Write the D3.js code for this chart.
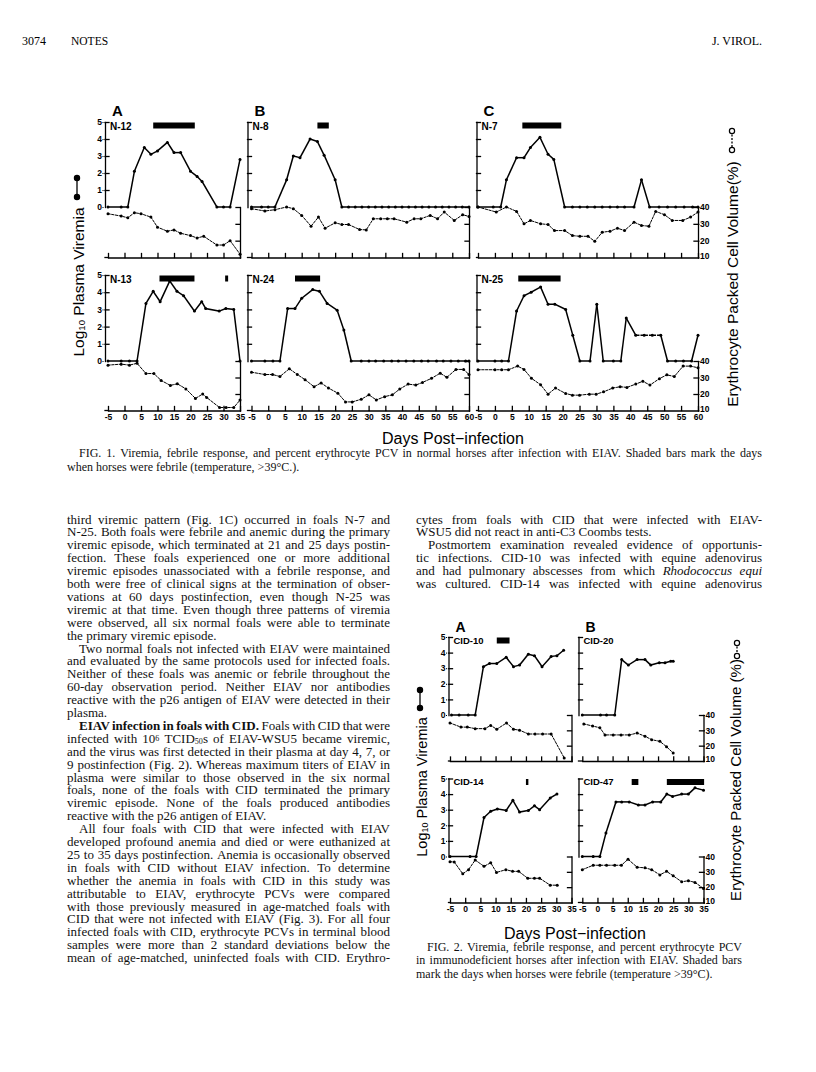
<!DOCTYPE html>
<html>
<head>
<meta charset="utf-8">
<script src="https://cdn.jsdelivr.net/npm/d3@7"></script>
<style>
  body { margin: 0; background: #fff; }
  svg { display: block; }
</style>
</head>
<body>
<svg id="page" width="816" height="1072"></svg>
<script>
// ---------- data: [day, value] ----------
const N12_viremia = [[-5,0],[-1,0],[1,0],[3,2.1],[6,3.5],[8,3.1],[10,3.3],[13,3.8],[15,3.2],[17,3.2],[20,2.1],[22,1.8],[23.5,1.5],[28,0],[30,0],[32,0],[35,2.8]];
const N12_pcv = [[-5,36],[-1,34.6],[1,33.6],[3,36.6],[5,36],[8,34],[10,28],[13,25.6],[15,26.4],[17,24.4],[20,23],[22,21.6],[24,22.6],[28,17.4],[30,17.4],[32,20],[35,12]];
const N12_fever = [[8.7,21.3]];

const N8_viremia = [[-5,0],[-2,0],[0,0],[2,0],[5.5,1.6],[7.5,3.0],[9.5,2.9],[12.5,4.0],[14.7,3.85],[16.7,3.05],[20,1.6],[22,0],[24,0],[26,0],[28,0],[30,0],[32,0],[34,0],[36,0],[38,0],[40,0],[42,0],[44,0],[46,0],[48,0],[50,0],[52,0],[54,0],[56,0],[58,0],[60,0]];
const N8_pcv = [[-5,39],[-1,37.6],[2,38.4],[5.5,40],[7.5,39],[10,35],[12.8,28.6],[15,34],[17,27.4],[20,30.6],[22,29.6],[24,29.6],[27.3,26.6],[29.3,26.4],[31.4,33],[33.6,33],[35.6,33],[37.6,33],[41.4,31],[43.6,33],[45.6,33],[48.4,35],[50.6,33],[52.6,37],[55.6,32],[58.1,35.4],[60,34.4]];
const N8_fever = [[14.7,18.1]];

const N7_viremia = [[-5,0],[-0.5,0],[1.7,0],[3.4,1.6],[6.4,2.9],[8.6,2.9],[10.5,3.5],[13.3,4.1],[15.7,3.1],[17.4,2.8],[20.6,0],[22.9,0],[25.1,0],[27.3,0],[29.5,0],[31.7,0],[34,0],[36.2,0],[38.3,0],[41.1,0],[43.3,1.6],[45.7,0],[48.5,0],[51,0],[53.4,0],[55.9,0],[58.4,0],[60,0]];
const N7_pcv = [[-5,40],[0.4,37],[3.4,40],[6.4,37.4],[8.6,30],[10.5,32],[13.5,30],[15.7,29.6],[17.6,26],[20.6,26],[22.9,23],[25.1,22.6],[27.5,22.6],[29.5,19.6],[31.7,25],[34,25.6],[36.2,27.4],[38.3,26],[41.1,31],[43.3,29],[45.5,28.6],[47.5,37.4],[50.1,35.4],[52.4,32],[55.5,32],[57.8,34],[60,37]];
const N7_fever = [[8.1,19.6]];

const N13_viremia = [[-5,0],[-1,0],[1.5,0],[3.8,0],[6.5,3.35],[8.7,4.05],[10.8,3.45],[13.7,4.65],[15.9,4.05],[17.9,3.8],[21.2,2.9],[23.4,3.45],[24.6,3.05],[28.7,2.9],[30.7,3.05],[33.1,3.0],[35,0]];
const N13_pcv = [[-5,37.5],[-1,38.1],[1.5,37.5],[3.8,38.6],[6.5,32.4],[8.9,32.4],[11.1,28.2],[13.9,25.2],[16,26.2],[18.6,23.1],[21.5,17.3],[23.7,20],[24.9,17.9],[28.8,11.8],[30.8,11.8],[33.1,11.8],[35,16.3]];
const N13_fever = [[10.6,21.2],[30.5,31.4]];

const N24_viremia = [[-5,0],[-1,0],[1.4,0],[3.5,0],[5.8,3.05],[8,3.05],[10,3.65],[13.3,4.15],[15.3,4.05],[17.6,3.35],[20.6,2.95],[22.6,1.8],[24.8,0],[27.8,0],[30.1,0],[32.1,0],[34.5,0],[36.9,0],[38.9,0],[41.2,0],[43.5,0],[45.8,0],[47.8,0],[50.3,0],[52.3,0],[54.6,0],[56.8,0],[59,0],[60,0]];
const N24_pcv = [[-5,33.2],[-1,31.8],[1.3,31.8],[3.5,30.6],[6.3,35.3],[8.7,31.8],[11,28.7],[13.7,24.4],[15.8,26.7],[18,23.6],[20.8,20.5],[23.1,15.2],[25.1,15.2],[27.8,16.8],[30.1,19.5],[32.3,16.4],[34.8,18.4],[37.1,19.5],[39.3,23],[41.8,26],[44.1,25.4],[46.1,27],[48.8,29.5],[51.4,32.6],[53.4,30.1],[56.1,34.9],[58.4,34.9],[60,31.8]];
const N24_fever = [[8,15.5]];

const N25_viremia = [[-5,0],[0,0],[2,0],[4,0],[6.4,2.9],[8.6,3.8],[10.7,4.0],[13.5,4.3],[15.7,3.3],[17.7,3.3],[20.9,3.0],[23,1.5],[25.1,0],[28.1,0],[30.1,3.3],[32,0],[35,0],[37.2,0],[38.8,2.5],[41.6,1.5],[44.1,1.5],[46.5,1.5],[49,1.5],[51,0],[53.4,0],[55.7,0],[58.1,0],[60,1.5]];
const N25_pcv = [[-5,34.7],[0,34.7],[2,34.7],[4,34.7],[6.7,36.9],[8.6,34.9],[10.8,29.5],[13.5,25.6],[15.7,19.9],[17.9,23.6],[20.9,20.3],[22.9,19.3],[25,19.3],[27.9,19.9],[29.9,19.9],[32.1,21.3],[34.8,23.6],[37,24.4],[39,24],[41.6,26],[43.7,27.7],[45.8,25.4],[48.6,29.3],[50.8,31.6],[53,30.6],[55.6,36.9],[57.8,36.9],[60,35.9]];
const N25_fever = [[6.9,19.4]];
const N25_dashedDays = [41.6, 49];

const CID10_viremia = [[-4.5,0],[-2,0],[1,0],[3.3,0],[6,3.1],[8,3.3],[10.4,3.3],[13.5,3.7],[15.9,3.1],[17.9,3.2],[20.8,3.9],[22.8,3.8],[25.3,3.1],[28.3,3.75],[30.2,3.8],[32.4,4.15]];
const CID10_pcv = [[-5,34.8],[-1.4,32.1],[0.7,32.1],[3.3,31.1],[6.5,31.1],[8.4,33.2],[10.4,30.7],[13.6,34.8],[15.9,30.7],[17.9,30.1],[20.8,27.6],[23,27.6],[25.5,27.6],[28.3,27.6],[32.6,12]];
const CID10_fever = [[10.4,14.6]];

const CID20_viremia = [[-5,0],[1,0],[3,0],[5.7,0],[8,3.55],[10.2,3.2],[13.1,3.55],[15.7,3.55],[17.6,3.2],[20.4,3.35],[22.3,3.35],[24.2,3.45],[25,3.45]];
const CID20_pcv = [[-4.5,34.2],[-1.6,32.8],[0.8,31.7],[2.5,27],[5.2,27],[7.8,27],[10.5,27],[13.1,28.2],[15.7,26.1],[17.9,23.9],[20.6,22.8],[22.8,19.3],[25,15.2]];
const CID20_fever = [];

const CID14_viremia = [[-5,0],[1.6,0],[3.6,0],[6.2,2.5],[8.4,2.9],[10.6,3.05],[13.5,2.95],[15.7,3.6],[17.9,2.85],[20.8,2.95],[22.8,3.25],[24.5,3.0],[28,3.75],[30.2,4.0]];
const CID14_pcv = [[-5,36.6],[-3.6,36.4],[-0.8,28.7],[1.1,31.4],[3.3,37.7],[6.2,33.6],[8.4,35.9],[10.3,29.6],[13.4,31.4],[15.6,30.3],[17.6,30.3],[20.6,25.8],[22.8,25.8],[24.5,25.8],[28,21.3],[30.3,21.3]];
const CID14_fever = [[20,20.8]];

const CID47_viremia = [[-5,0],[-1.4,0],[0.8,0],[2.8,1.5],[6.1,3.5],[8,3.5],[10.5,3.5],[13.5,3.3],[15.7,3.3],[18.2,3.5],[20.9,3.5],[22.9,4.0],[24.8,3.85],[27.8,4.0],[30,4.0],[32.2,4.4],[35,4.25]];
const CID47_pcv = [[-5,31.4],[-1.4,34.3],[0.8,34.3],[3,34.3],[5.7,34.3],[7.9,34.3],[10.1,38.2],[13.1,33],[15.7,32.6],[17.9,31.4],[20.6,28],[22.8,30.3],[25,27.4],[27.8,23.5],[30,24.2],[32.2,23.1],[35,19.1]];
const CID47_fever = [[11.3,13.5],[22.9,35.2]];

const viremiaTicks = [0, 1, 2, 3, 4, 5];
const pcvTicks = [10, 20, 30, 40];

// ---------- text ----------
const leftLines = [
  ["third viremic pattern (Fig. 1C) occurred in foals N-7 and", 0, 1],
  ["N-25. Both foals were febrile and anemic during the primary", 0, 1],
  ["viremic episode, which terminated at 21 and 25 days postin-", 0, 1],
  ["fection. These foals experienced one or more additional", 0, 1],
  ["viremic episodes unassociated with a febrile response, and", 0, 1],
  ["both were free of clinical signs at the termination of obser-", 0, 1],
  ["vations at 60 days postinfection, even though N-25 was", 0, 1],
  ["viremic at that time. Even though three patterns of viremia", 0, 1],
  ["were observed, all six normal foals were able to terminate", 0, 1],
  ["the primary viremic episode.", 0, 0],
  ["Two normal foals not infected with EIAV were maintained", 1, 1],
  ["and evaluated by the same protocols used for infected foals.", 0, 1],
  ["Neither of these foals was anemic or febrile throughout the", 0, 1],
  ["60-day observation period. Neither EIAV nor antibodies", 0, 1],
  ["reactive with the p26 antigen of EIAV were detected in their", 0, 1],
  ["plasma.", 0, 0],
  ["*EIAV infection in foals with CID.* Foals with CID that were", 1, 1],
  ["infected with 10^6^ TCID~50~s of EIAV-WSU5 became viremic,", 0, 1],
  ["and the virus was first detected in their plasma at day 4, 7, or", 0, 1],
  ["9 postinfection (Fig. 2). Whereas maximum titers of EIAV in", 0, 1],
  ["plasma were similar to those observed in the six normal", 0, 1],
  ["foals, none of the foals with CID terminated the primary", 0, 1],
  ["viremic episode. None of the foals produced antibodies", 0, 1],
  ["reactive with the p26 antigen of EIAV.", 0, 0],
  ["All four foals with CID that were infected with EIAV", 1, 1],
  ["developed profound anemia and died or were euthanized at", 0, 1],
  ["25 to 35 days postinfection. Anemia is occasionally observed", 0, 1],
  ["in foals with CID without EIAV infection. To determine", 0, 1],
  ["whether the anemia in foals with CID in this study was", 0, 1],
  ["attributable to EIAV, erythrocyte PCVs were compared", 0, 1],
  ["with those previously measured in age-matched foals with", 0, 1],
  ["CID that were not infected with EIAV (Fig. 3). For all four", 0, 1],
  ["infected foals with CID, erythrocyte PCVs in terminal blood", 0, 1],
  ["samples were more than 2 standard deviations below the", 0, 1],
  ["mean of age-matched, uninfected foals with CID. Erythro-", 0, 1]
];
const rightLines = [
  ["cytes from foals with CID that were infected with EIAV-", 0, 1],
  ["WSU5 did not react in anti-C3 Coombs tests.", 0, 0],
  ["Postmortem examination revealed evidence of opportunis-", 1, 1],
  ["tic infections. CID-10 was infected with equine adenovirus", 0, 1],
  ["and had pulmonary abscesses from which _Rhodococcus equi_", 0, 1],
  ["was cultured. CID-14 was infected with equine adenovirus", 0, 1]
];
const fig1Caption = [
  ["FIG. 1. Viremia, febrile response, and percent erythrocyte PCV in normal horses after infection with EIAV. Shaded bars mark the days", 1, 1],
  ["when horses were febrile (temperature, >39°C.).", 0, 0]
];
const fig2Caption = [
  ["FIG. 2. Viremia, febrile response, and percent erythrocyte PCV", 1, 1],
  ["in immunodeficient horses after infection with EIAV. Shaded bars", 0, 1],
  ["mark the days when horses were febrile (temperature >39°C).", 0, 0]
];

// ---------- drawing ----------
const svg = d3.select("#page");
const sans = "'Liberation Sans', Arial, sans-serif";
const serif = "'Liberation Serif', 'Times New Roman', serif";

// split a marked-up string into runs: *bold* _italic_ ^sup^ ~sub~
function runs(str) {
  return str.split(/(\*[^*]+\*|_[^_]+_|\^[^^]+\^|~[^~]+~)/).filter(s => s.length).map(p => {
    const k = { "*": "b", "_": "i", "^": "sup", "~": "sub" }[p[0]];
    return k ? { t: p.slice(1, -1), k } : { t: p, k: null };
  });
}

function styleRun(t, k) {
  if (k === "b") t.attr("font-weight", "bold");
  if (k === "i") t.attr("font-style", "italic");
  if (k === "sup") t.attr("font-size", "0.62em").attr("baseline-shift", "30%");
  if (k === "sub") t.attr("font-size", "0.62em").attr("baseline-shift", "-12%");
}

function richText(sel, str) {
  runs(str).forEach(r => styleRun(sel.append("tspan").text(r.t), r.k));
}

// one line = words placed one by one, gaps stretched to fill the column
function textBlock(lines, x0, x1, y0, lh, size, indent) {
  lines.forEach((ln, i) => {
    const xs = x0 + (ln[1] ? indent : 0);
    const words = [[]];
    runs(ln[0]).forEach(r => {
      r.t.split(" ").forEach((piece, j) => {
        if (j > 0) words.push([]);
        if (piece.length) words[words.length - 1].push({ t: piece, k: r.k });
      });
    });
    const t = svg.append("text").attr("y", y0 + i * lh)
      .attr("font-family", serif).attr("font-size", size).attr("fill", "#111");
    const nodes = words.filter(w => w.length).map(w => w.map(r => {
      const s = t.append("tspan").text(r.t);
      styleRun(s, r.k);
      return s;
    }));
    const widths = nodes.map(w => d3.sum(w, s => s.node().getComputedTextLength()));
    const gap = ln[2] && nodes.length > 1
      ? (x1 - xs - d3.sum(widths)) / (nodes.length - 1)
      : size * 0.25;
    let cx = xs;
    nodes.forEach((w, j) => {
      w[0].attr("x", cx);
      cx += widths[j] + gap;
    });
  });
}

function panel(p) {
  const x = d3.scaleLinear().domain([-5, p.end]).range([p.xs, p.xe]);
  const yv = d3.scaleLinear().domain([0, 5]).range([p.v0, p.v5]);
  const yp = d3.scaleLinear().domain([10, 40]).range([p.base, p.v0]);
  const g = svg.append("g").attr("stroke-linecap", "square");
  const fmt = d3.format("d");

  // viremia axis (left, inward ticks)
  g.append("g").attr("transform", `translate(${p.axL},0)`)
    .call(d3.axisRight(yv).tickValues([1, 2, 3, 4, 5]).tickSize(4).tickSizeOuter(0).tickFormat(""))
    .call(a => a.selectAll("path,line").attr("stroke", "#000").attr("stroke-width", 1.3));
  if (p.vLabels) {
    g.append("g").attr("transform", `translate(${p.axL - 2},0)`)
      .call(d3.axisLeft(yv).tickValues(viremiaTicks).tickSize(0).tickPadding(1).tickFormat(fmt))
      .call(a => a.select(".domain").remove())
      .call(a => a.selectAll("text").attr("font-family", sans).attr("font-weight", "bold").attr("font-size", p.tickFont).attr("fill", "#000"));
  }

  // PCV axis (right, inward ticks)
  g.append("g").attr("transform", `translate(${p.axR},0)`)
    .call(d3.axisLeft(yp).tickValues([20, 30, 40]).tickSize(4).tickSizeOuter(0).tickFormat(""))
    .call(a => a.selectAll("path,line").attr("stroke", "#000").attr("stroke-width", 1.3));
  if (p.pLabels) {
    g.append("g").attr("transform", `translate(${p.axR + 1},0)`)
      .call(d3.axisRight(yp).tickValues(pcvTicks).tickSize(0).tickPadding(1).tickFormat(fmt))
      .call(a => a.select(".domain").remove())
      .call(a => a.selectAll("text").attr("font-family", sans).attr("font-weight", "bold").attr("font-size", p.tickFont).attr("fill", "#000")
        .attr("dy", d => d === 10 ? "0.1em" : "0.32em"));
  }

  // day axis (bottom, upward ticks)
  const days = d3.range(-5, p.end + 1, 5);
  g.append("g").attr("transform", `translate(0,${p.base})`)
    .call(d3.axisTop(x).tickValues(days).tickSize(4).tickSizeOuter(0).tickFormat(""))
    .call(a => a.selectAll("path,line").attr("stroke", "#000").attr("stroke-width", 1.3));
  g.append("line").attr("x1", p.axL).attr("x2", p.xs).attr("y1", p.base).attr("y2", p.base)
    .attr("stroke", "#000").attr("stroke-width", 1.3);
  if (p.xLabels) {
    g.append("g").attr("transform", `translate(0,${p.base})`)
      .call(d3.axisBottom(x).tickValues(days).tickSize(0).tickPadding(3).tickFormat(d => d < 0 ? "-" + (-d) : d))
      .call(a => a.select(".domain").remove())
      .call(a => a.selectAll("text").attr("font-family", sans).attr("font-weight", "bold").attr("font-size", p.tickFont).attr("fill", "#000"));
  }

  // fever bars
  g.selectAll(".fever").data(p.fever).join("rect")
    .attr("x", d => x(d[0])).attr("width", d => x(d[1]) - x(d[0]))
    .attr("y", p.v5 + 0.5).attr("height", 6).attr("fill", "#000");

  // PCV series
  const lp = d3.line().x(d => x(d[0])).y(d => yp(d[1]));
  g.append("path").attr("d", lp(p.pcv)).attr("fill", "none").attr("stroke", "#000")
    .attr("stroke-width", 1).attr("stroke-dasharray", "2.2,1.6");
  g.selectAll(".pd").data(p.pcv).join("circle")
    .attr("cx", d => x(d[0])).attr("cy", d => yp(d[1])).attr("r", 1.5).attr("fill", "#000");

  // viremia series: solid, except an optional dashed stretch
  const lv = d3.line().x(d => x(d[0])).y(d => yv(d[1]));
  const inDash = d => p.dashed && d[0] >= p.dashed[0] && d[0] <= p.dashed[1];
  g.selectAll(".vs").data(d3.pairs(p.vir)).join("path")
    .attr("d", s => lv(s)).attr("fill", "none").attr("stroke", "#000").attr("stroke-width", 1.5)
    .attr("stroke-dasharray", s => inDash(s[0]) && inDash(s[1]) ? "3,2.5" : null);
  g.selectAll(".vd").data(p.vir).join("circle")
    .attr("cx", d => x(d[0])).attr("cy", d => yv(d[1])).attr("r", 1.5).attr("fill", "#000");

  // horse id
  g.append("text").attr("x", p.axL + 5).attr("y", p.v5 + p.nameDy)
    .attr("font-family", sans).attr("font-weight", "bold").attr("font-size", p.nameFont).text(p.name);
}

function legendGlyph(cx, y1, y2, open) {
  const g = svg.append("g");
  g.append("line").attr("x1", cx).attr("x2", cx).attr("y1", y1).attr("y2", y2)
    .attr("stroke", "#000").attr("stroke-width", 1.3).attr("stroke-dasharray", open ? "2,1.5" : null);
  [y1, y2].forEach(y => g.append("circle").attr("cx", cx).attr("cy", y).attr("r", 2.6)
    .attr("fill", open ? "#fff" : "#000").attr("stroke", "#000").attr("stroke-width", 1.2));
}

function rotTitle(x, y, size, parts) {
  const t = svg.append("text").attr("transform", `translate(${x},${y}) rotate(-90)`)
    .attr("text-anchor", "middle").attr("font-family", sans).attr("font-size", size).attr("fill", "#000");
  richText(t, parts);
}

// ---------- page header ----------
svg.append("text").attr("x", 22).attr("y", 45).attr("font-family", serif).attr("font-size", 12).text("3074");
svg.append("text").attr("x", 71).attr("y", 45).attr("font-family", serif).attr("font-size", 11.5).text("NOTES");
svg.append("text").attr("x", 762).attr("y", 45).attr("text-anchor", "end").attr("font-family", serif).attr("font-size", 12).text("J. VIROL.");

// ---------- Figure 1 ----------
const f1Cols = [
  { letter: "A", axL: 105, xs: 108, xe: 240, end: 35 },
  { letter: "B", axL: 247.5, xs: 251.5, xe: 469, end: 60 },
  { letter: "C", axL: 476.5, xs: 478, xe: 698, end: 60 }
];
const f1Rows = [
  { v5: 122, v0: 207, base: 257.5 },
  { v5: 275, v0: 361, base: 410.5 }
];
const f1Series = [
  [["N-12", N12_viremia, N12_pcv, N12_fever], ["N-8", N8_viremia, N8_pcv, N8_fever], ["N-7", N7_viremia, N7_pcv, N7_fever]],
  [["N-13", N13_viremia, N13_pcv, N13_fever], ["N-24", N24_viremia, N24_pcv, N24_fever], ["N-25", N25_viremia, N25_pcv, N25_fever, N25_dashedDays]]
];
f1Rows.forEach((r, ri) => f1Cols.forEach((c, ci) => {
  const s = f1Series[ri][ci];
  panel({ ...c, ...r, axR: c.xe, name: s[0], vir: s[1], pcv: s[2], fever: s[3], dashed: s[4],
    vLabels: ci === 0, pLabels: ci === 2, xLabels: ri === 1, tickFont: 8.5, nameFont: 10, nameDy: 7.5 });
}));
f1Cols.forEach(c => svg.append("text").attr("x", c.axL + 7).attr("y", 116)
  .attr("font-family", sans).attr("font-weight", "bold").attr("font-size", 15).text(c.letter));

rotTitle(84, 282, 15.5, "Log~10~ Plasma Viremia");
legendGlyph(77, 178, 197, false);
rotTitle(738, 284, 15.5, "Erythrocyte Packed Cell Volume(%)");
legendGlyph(732, 131, 150, true);
svg.append("text").attr("x", 453).attr("y", 444).attr("text-anchor", "middle")
  .attr("font-family", sans).attr("font-size", 16).text("Days Post\u2212infection");

textBlock(fig1Caption, 67, 762, 457, 13.5, 12, 12);

// ---------- body text ----------
textBlock(leftLines, 67, 390, 523.5, 12.9, 13, 12);
textBlock(rightLines, 416, 762, 523.5, 12.9, 13, 12);

// ---------- Figure 2 ----------
const f2Cols = [
  { letter: "A", axL: 448.5, xs: 450, xe: 571.5, end: 35 },
  { letter: "B", axL: 578.5, xs: 582.3, xe: 703.5, end: 35 }
];
const f2Rows = [
  { v5: 637, v0: 715, base: 761 },
  { v5: 778.5, v0: 856.5, base: 902.5 }
];
const f2Series = [
  [["CID-10", CID10_viremia, CID10_pcv, CID10_fever], ["CID-20", CID20_viremia, CID20_pcv, CID20_fever]],
  [["CID-14", CID14_viremia, CID14_pcv, CID14_fever], ["CID-47", CID47_viremia, CID47_pcv, CID47_fever]]
];
f2Rows.forEach((r, ri) => f2Cols.forEach((c, ci) => {
  const s = f2Series[ri][ci];
  panel({ ...c, ...r, axR: c.xe, name: s[0], vir: s[1], pcv: s[2], fever: s[3],
    vLabels: ci === 0, pLabels: ci === 1, xLabels: ri === 1, tickFont: 8.5, nameFont: 9.5, nameDy: 6.5 });
}));
f2Cols.forEach(c => svg.append("text").attr("x", c.axL + 7).attr("y", 632)
  .attr("font-family", sans).attr("font-weight", "bold").attr("font-size", 14).text(c.letter));

rotTitle(427, 787, 14.5, "Log~10~ Plasma Viremia");
legendGlyph(420, 690, 708, false);
rotTitle(741, 780, 15, "Erythrocyte Packed Cell Volume (%)");
legendGlyph(737, 643, 656, true);
svg.append("text").attr("x", 575).attr("y", 939).attr("text-anchor", "middle")
  .attr("font-family", sans).attr("font-size", 16).text("Days Post\u2212infection");

textBlock(fig2Caption, 416, 742, 951, 13.3, 12, 11);
</script>
</body>
</html>
